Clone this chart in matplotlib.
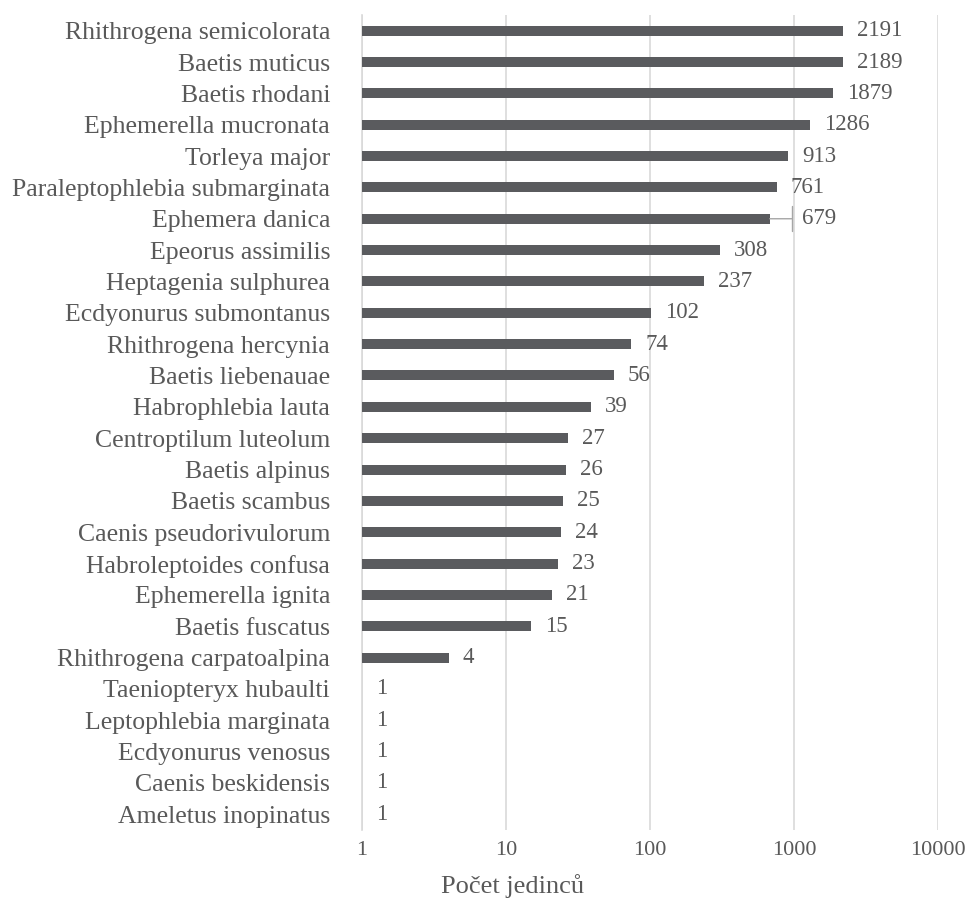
import matplotlib
matplotlib.use("Agg")
import matplotlib.pyplot as plt

species = [
    "Rhithrogena semicolorata", "Baetis muticus", "Baetis rhodani", "Ephemerella mucronata",
    "Torleya major", "Paraleptophlebia submarginata", "Ephemera danica", "Epeorus assimilis",
    "Heptagenia sulphurea", "Ecdyonurus submontanus", "Rhithrogena hercynia", "Baetis liebenauae",
    "Habrophlebia lauta", "Centroptilum luteolum", "Baetis alpinus", "Baetis scambus",
    "Caenis pseudorivulorum", "Habroleptoides confusa", "Ephemerella ignita", "Baetis fuscatus",
    "Rhithrogena carpatoalpina", "Taeniopteryx hubaulti", "Leptophlebia marginata",
    "Ecdyonurus venosus", "Caenis beskidensis", "Ameletus inopinatus",
]
counts = [2191, 2189, 1879, 1286, 913, 761, 679, 308, 237, 102, 74, 56, 39, 27, 26, 25,
          24, 23, 21, 15, 4, 1, 1, 1, 1, 1]
xticks = [1, 10, 100, 1000, 10000]
xlabel = "Počet jedinců"

plt.rcParams['font.family'] = ['Liberation Serif', 'DejaVu Serif']
FS_Y = 18.5
FS_T = 16
FS_D = 16.5
TXT = '#595959'

fig = plt.figure(figsize=(9.67, 8.98), dpi=100)
ax = fig.add_axes([362/967, 1-830/898, (938-362)/967, (830-15)/898])

ypos = list(range(len(species)))
ax.barh(ypos, [c - 1 for c in counts], left=1, height=0.32, color='#5a5b5e', zorder=3)
ax.set_xscale('log')
ax.set_xlim(1, 10000)
ax.set_ylim(len(species) - 0.5, -0.5)
ax.set_yticks(ypos)
ax.set_yticklabels(species, fontsize=FS_Y, color=TXT)
ax.set_xticks(xticks)
ax.set_xticklabels([str(t) for t in xticks], fontsize=FS_T, color=TXT)
ax.minorticks_off()
ax.tick_params(axis='y', length=0, pad=23)
ax.tick_params(axis='x', length=0, pad=8)
ax.grid(axis='x', color='#d9d9d9', linewidth=1.2, zorder=0)
for s in ['top', 'right', 'bottom']:
    ax.spines[s].set_visible(False)
ax.spines['left'].set_color('#d9d9d9')
ax.spines['left'].set_linewidth(1.2)

fig.text(513/967, 1 - 886/898, xlabel, fontsize=19, color=TXT, ha='center', va='center')

for y, v, name in zip(ypos, counts, species):
    if name == "Ephemera danica":
        ax.annotate(str(v), xy=(v, y), xytext=(23, 0), textcoords='offset points',
                    ha='left', va='center', fontsize=FS_D, color=TXT,
                    arrowprops=dict(arrowstyle=']-, widthA=0.55, lengthA=0', color='#a6a6a6',
                                    lw=1, shrinkA=5, shrinkB=0,
                                    relpos=(0, 0.5)))
    else:
        ax.annotate(str(v), xy=(v, y), xytext=(10, 0), textcoords='offset points',
                    ha='left', va='center', fontsize=FS_D, color=TXT)

fig.savefig("out.png", dpi=100)
